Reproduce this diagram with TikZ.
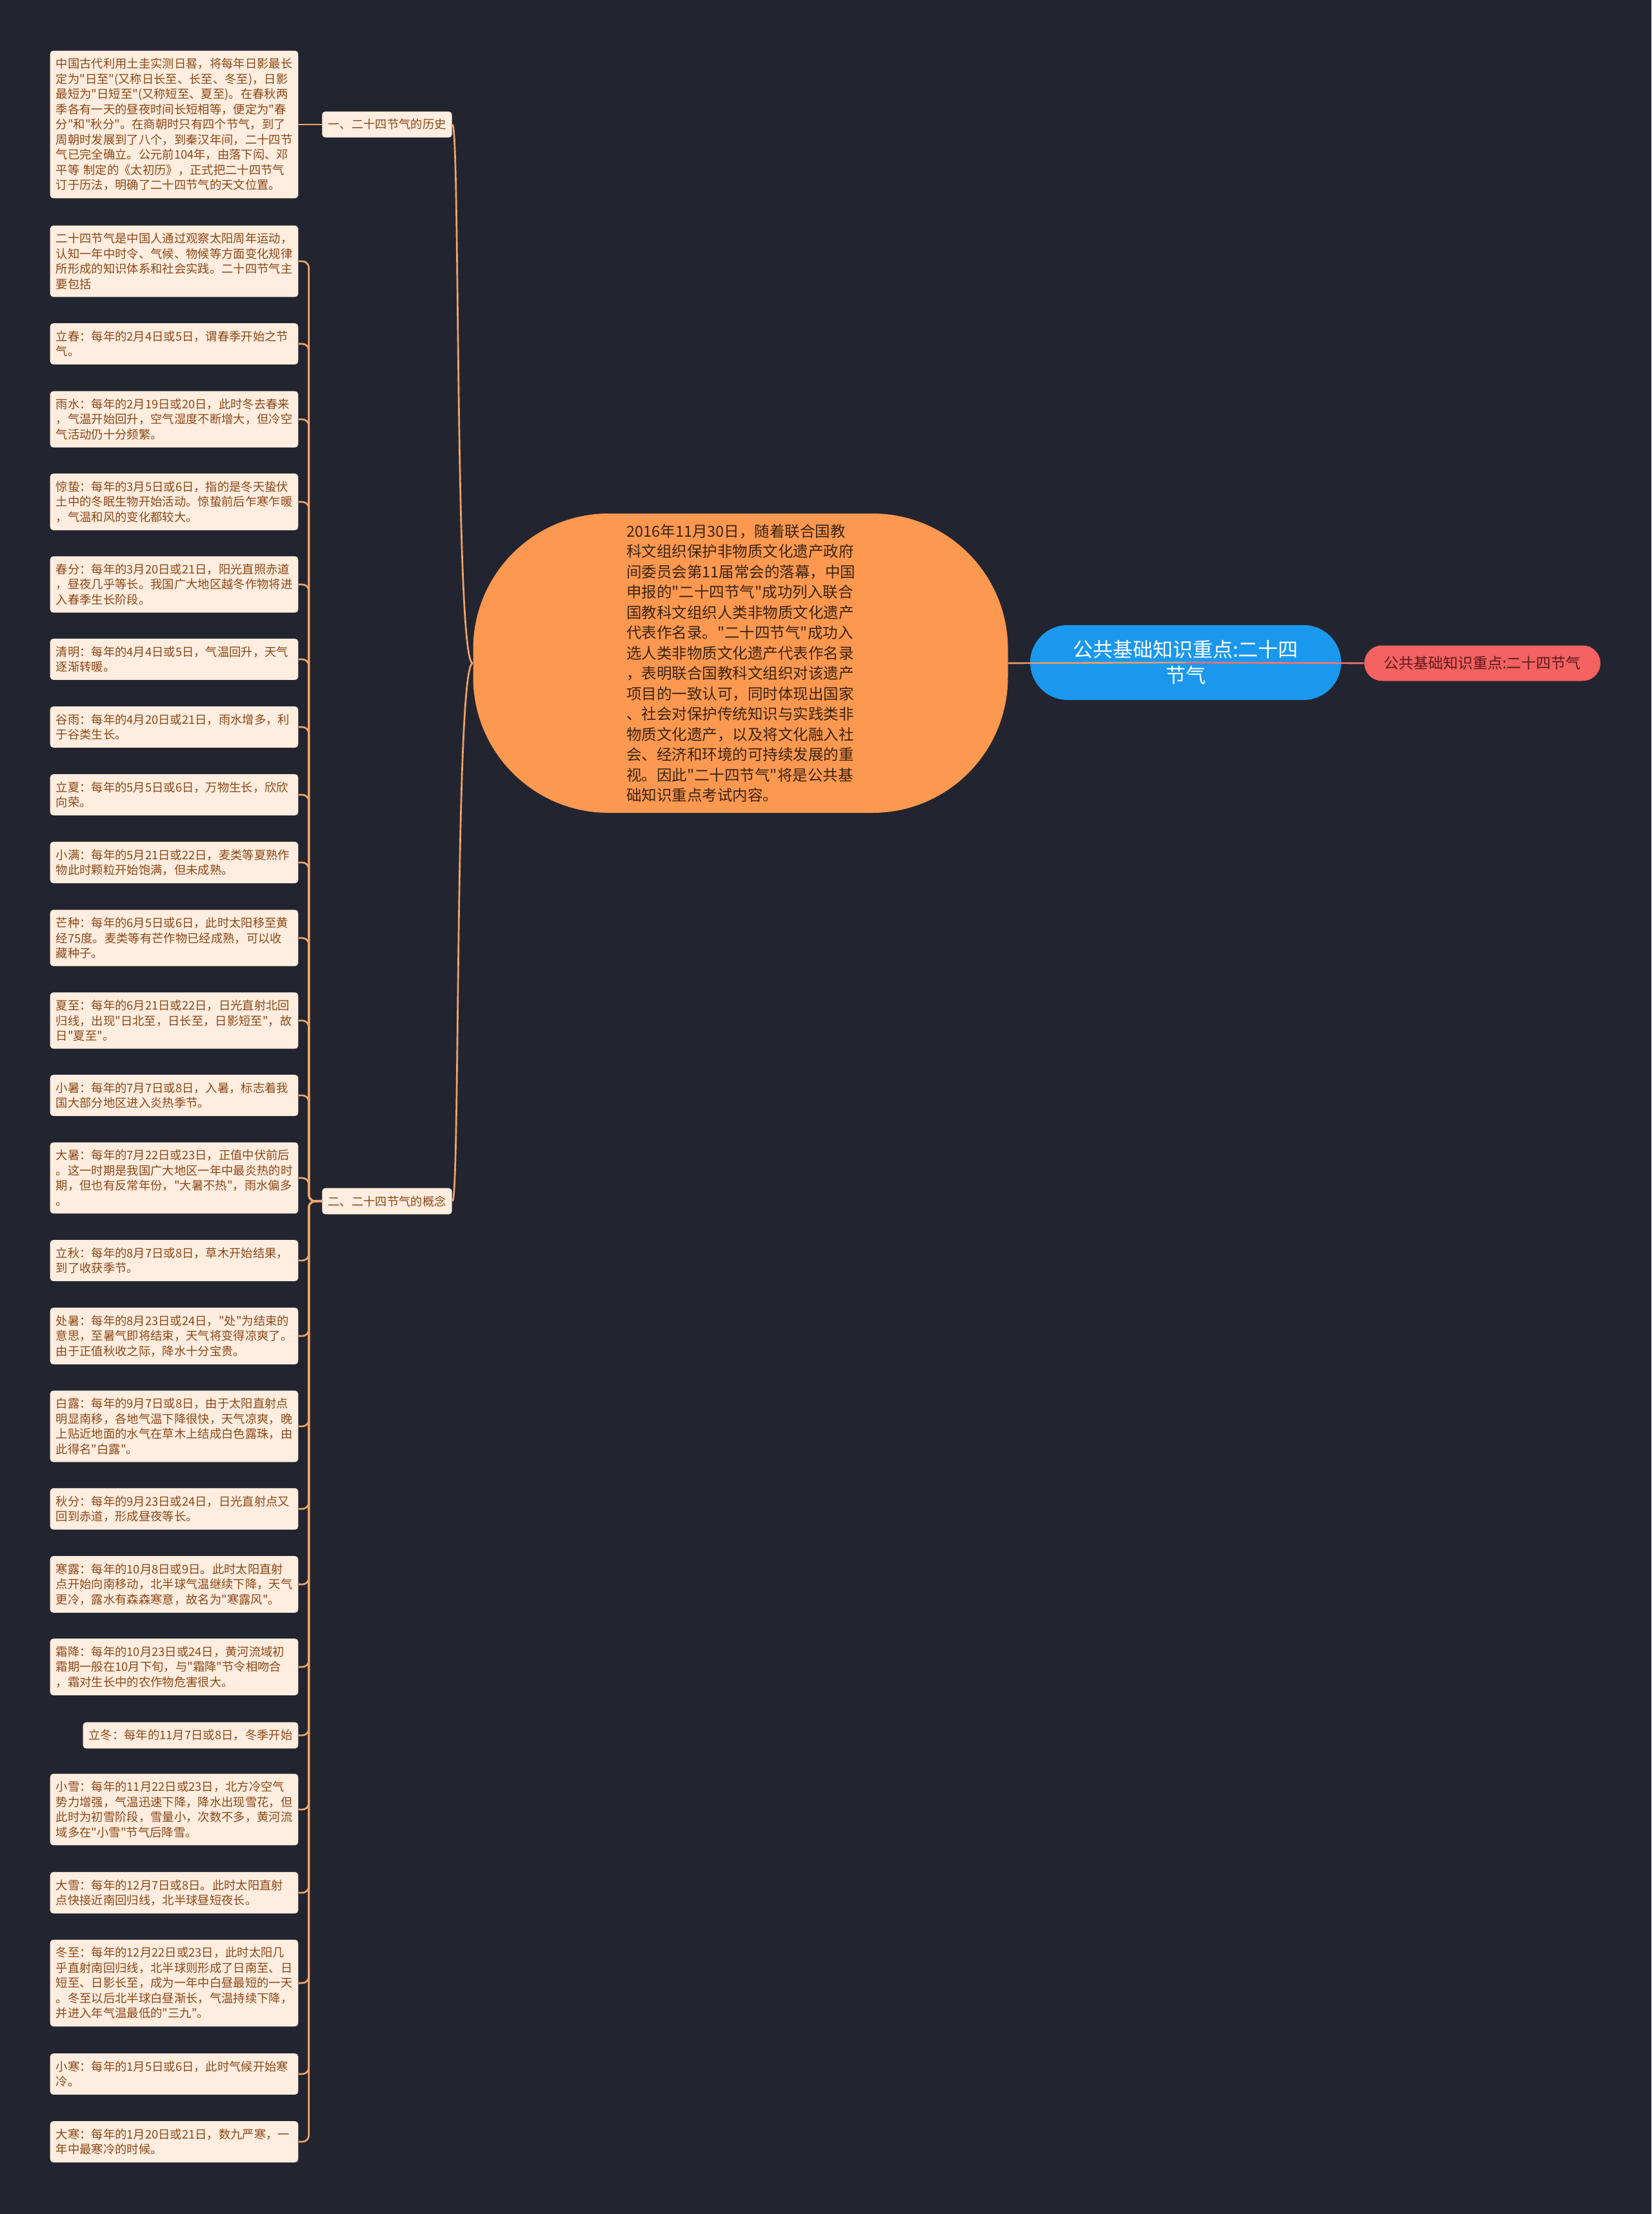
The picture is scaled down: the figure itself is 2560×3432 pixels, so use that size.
\documentclass[tikz,border=0pt]{standalone}
\usepackage{fontspec}
\setmainfont{Noto Sans CJK SC}[Ligatures=TeXOff]

\definecolor{bgdark}{HTML}{22252F}
\definecolor{leafbg}{HTML}{FFEDDF}
\definecolor{leaftext}{HTML}{8A4818}
\definecolor{linkorange}{HTML}{F2A46A}
\definecolor{ovalorange}{HTML}{FD9850}
\definecolor{ovaltext}{HTML}{3A2412}
\definecolor{rootblue}{HTML}{1A98EE}
\definecolor{titlered}{HTML}{F46262}
\definecolor{titletext}{HTML}{5C1A1A}

\tikzset{
  leaf/.style={fill=leafbg, text=leaftext, rounded corners=1.5pt, inner xsep=2.7pt, inner ysep=3.5pt,
    font=\fontsize{5.5pt}{7.05pt}\selectfont, align=left},
  leafbox/.style={leaf, text width=110pt, anchor=east},
  branch/.style={leaf},
  mainidea/.style={fill=ovalorange, text=ovaltext, rounded corners=63pt, minimum width=248.7pt,
    minimum height=139.2pt, text width=106pt, align=left, font=\fontsize{7.05pt}{9.45pt}\selectfont},
  rootnode/.style={fill=rootblue, text=white, rounded corners=17.4pt, minimum width=144.6pt,
    minimum height=34.8pt, align=center, font=\fontsize{9.3pt}{12pt}\selectfont},
  titlenode/.style={fill=titlered, text=titletext, rounded corners=8.2pt, minimum width=109.8pt,
    minimum height=16.5pt, font=\fontsize{6.9pt}{8pt}\selectfont},
  link/.style={draw=linkorange, line width=0.8pt},
  rootlink/.style={draw=linkorange!85!gray, line width=0.8pt},
  redlink/.style={draw=titlered!90!white, line width=0.8pt}
}

\begin{document}
\begin{tikzpicture}[x=0.3pt, y=-0.3pt]
    % Page frame (2560 x 3432), dark background
    \useasboundingbox (0,0) rectangle (2560,3432);
    \fill[bgdark] (0,0) rectangle (2560,3432);

    % Centre idea, root and title
    \node[mainidea] (main) at (1148,1028) {2016年11月30日，随着联合国教\\科文组织保护非物质文化遗产政府\\间委员会第11届常会的落幕，中国\\申报的"二十四节气"成功列入联合\\国教科文组织人类非物质文化遗产\\代表作名录。"二十四节气"成功入\\选人类非物质文化遗产代表作名录\\，表明联合国教科文组织对该遗产\\项目的一致认可，同时体现出国家\\、社会对保护传统知识与实践类非\\物质文化遗产，以及将文化融入社\\会、经济和环境的可持续发展的重\\视。因此"二十四节气"将是公共基\\础知识重点考试内容。};
    \node[rootnode] (root) at (1838,1027) {公共基础知识重点:二十四\\节气};
    \node[titlenode] (title) at (2298,1028) {公共基础知识重点:二十四节气};

    % Branch labels
    \node[branch] (hist) at (600,193) {一、二十四节气的历史};
    \node[branch] (concept) at (600,1862) {二、二十四节气的概念};

    % Leaves (right edges at x = 463)
    \node[leafbox] (l1) at (463,193) {中国古代利用土圭实测日晷，将每年日影最长\\定为"日至"(又称日长至、长至、冬至)，日影\\最短为"日短至"(又称短至、夏至)。在春秋两\\季各有一天的昼夜时间长短相等，便定为"春\\分"和"秋分"。在商朝时只有四个节气，到了\\周朝时发展到了八个，到秦汉年间，二十四节\\气已完全确立。公元前104年，由落下闳、邓\\平等 制定的《太初历》，正式把二十四节气\\订于历法，明确了二十四节气的天文位置。};
    \node[leafbox] (l2) at (463,405) {二十四节气是中国人通过观察太阳周年运动，\\认知一年中时令、气候、物候等方面变化规律\\所形成的知识体系和社会实践。二十四节气主\\要包括};
    \node[leafbox] (l3) at (463,533) {立春：每年的2月4日或5日，谓春季开始之节\\气。};
    \node[leafbox] (l4) at (463,650) {雨水：每年的2月19日或20日，此时冬去春来\\，气温开始回升，空气湿度不断增大，但冷空\\气活动仍十分频繁。};
    \node[leafbox] (l5) at (463,778) {惊蛰：每年的3月5日或6日，指的是冬天蛰伏\\土中的冬眠生物开始活动。惊蛰前后乍寒乍暖\\，气温和风的变化都较大。};
    \node[leafbox] (l6) at (463,906) {春分：每年的3月20日或21日，阳光直照赤道\\，昼夜几乎等长。我国广大地区越冬作物将进\\入春季生长阶段。};
    \node[leafbox] (l7) at (463,1022) {清明：每年的4月4日或5日，气温回升，天气\\逐渐转暖。};
    \node[leafbox] (l8) at (463,1127) {谷雨：每年的4月20日或21日，雨水增多，利\\于谷类生长。};
    \node[leafbox] (l9) at (463,1232) {立夏：每年的5月5日或6日，万物生长，欣欣\\向荣。};
    \node[leafbox] (l10) at (463,1337) {小满：每年的5月21日或22日，麦类等夏熟作\\物此时颗粒开始饱满，但未成熟。};
    \node[leafbox] (l11) at (463,1454) {芒种：每年的6月5日或6日，此时太阳移至黄\\经75度。麦类等有芒作物已经成熟，可以收\\藏种子。};
    \node[leafbox] (l12) at (463,1582) {夏至：每年的6月21日或22日，日光直射北回\\归线，出现"日北至，日长至，日影短至"，故\\日"夏至"。};
    \node[leafbox] (l13) at (463,1698) {小暑：每年的7月7日或8日，入暑，标志着我\\国大部分地区进入炎热季节。};
    \node[leafbox] (l14) at (463,1826) {大暑：每年的7月22日或23日，正值中伏前后\\。这一时期是我国广大地区一年中最炎热的时\\期，但也有反常年份，"大暑不热"，雨水偏多\\。};
    \node[leafbox] (l15) at (463,1954) {立秋：每年的8月7日或8日，草木开始结果，\\到了收获季节。};
    \node[leafbox] (l16) at (463,2071) {处暑：每年的8月23日或24日，"处"为结束的\\意思，至暑气即将结束，天气将变得凉爽了。\\由于正值秋收之际，降水十分宝贵。};
    \node[leafbox] (l17) at (463,2211) {白露：每年的9月7日或8日，由于太阳直射点\\明显南移，各地气温下降很快，天气凉爽，晚\\上贴近地面的水气在草木上结成白色露珠，由\\此得名"白露"。};
    \node[leafbox] (l18) at (463,2339) {秋分：每年的9月23日或24日，日光直射点又\\回到赤道，形成昼夜等长。};
    \node[leafbox] (l19) at (463,2456) {寒露：每年的10月8日或9日。此时太阳直射\\点开始向南移动，北半球气温继续下降，天气\\更冷，露水有森森寒意，故名为"寒露风"。};
    \node[leafbox] (l20) at (463,2584) {霜降：每年的10月23日或24日，黄河流域初\\霜期一般在10月下旬，与"霜降"节令相吻合\\，霜对生长中的农作物危害很大。};
    \node[leaf, anchor=east] (l21) at (463,2690) {立冬：每年的11月7日或8日，冬季开始};
    \node[leafbox] (l22) at (463,2805) {小雪：每年的11月22日或23日，北方冷空气\\势力增强，气温迅速下降，降水出现雪花，但\\此时为初雪阶段，雪量小，次数不多，黄河流\\域多在"小雪"节气后降雪。};
    \node[leafbox] (l23) at (463,2934) {大雪：每年的12月7日或8日。此时太阳直射\\点快接近南回归线，北半球昼短夜长。};
    \node[leafbox] (l24) at (463,3074) {冬至：每年的12月22日或23日，此时太阳几\\乎直射南回归线，北半球则形成了日南至、日\\短至、日影长至，成为一年中白昼最短的一天\\。冬至以后北半球白昼渐长，气温持续下降，\\并进入年气温最低的"三九"。};
    \node[leafbox] (l25) at (463,3215) {小寒：每年的1月5日或6日，此时气候开始寒\\冷。};
    \node[leafbox] (l26) at (463,3320) {大寒：每年的1月20日或21日，数九严寒，一\\年中最寒冷的时候。};

    % Centre idea to the two branches
    \draw[link] (main.west) .. controls +(-28,0) and +(12,0) .. (hist.east);
    \draw[link] (main.west) .. controls +(-28,0) and +(12,0) .. (concept.east);

    % Branches to leaves
    \draw[link] (hist.west) -- (l1.east);
    \foreach \n in {2,...,26}
        \draw[link, rounded corners=3pt] (concept.west) -- ++(-20,0) |- (l\n.east);

    % Centre idea to root, root to title (drawn over the root)
    \draw[rootlink] (main.east) -- (root.center);
    \draw[redlink] (root.center) -- (title.west);
\end{tikzpicture}
\end{document}
